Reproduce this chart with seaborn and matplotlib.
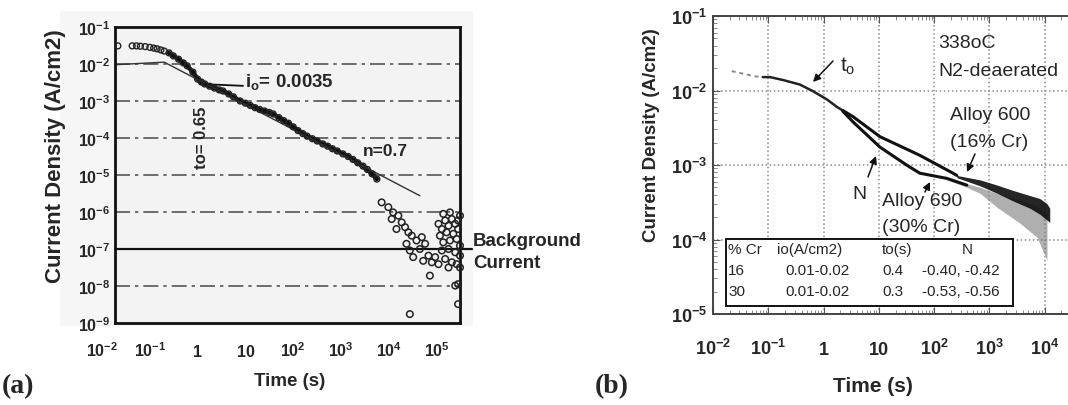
import numpy as np
import pandas as pd
import matplotlib
matplotlib.use("Agg")
import matplotlib.pyplot as plt
from matplotlib.patches import Rectangle
import seaborn as sns

W, H = 1068, 406

# ---------- panel (a): values (log10 of t and i) ----------
a_curve_logt = [-1.67, -1.37, -1.28, -1.2, -1.1, -1.0, -0.92, -0.85, -0.77, -0.7,
                -0.6, -0.51, -0.4, -0.3, -0.22, -0.1, 0.0, 0.08, 0.15, 0.25,
                0.35, 0.45, 0.53, 0.65, 0.75, 0.89, 1.0, 1.1, 1.2, 1.3,
                1.4, 1.5, 1.58, 1.7, 1.8, 1.9, 2.0, 2.1, 2.2, 2.29,
                2.4, 2.5, 2.62, 2.72, 2.82, 2.92, 3.04, 3.15, 3.25, 3.35,
                3.46, 3.55, 3.65, 3.75]
a_curve_logi = [-1.51, -1.51, -1.51, -1.52, -1.53, -1.55, -1.57, -1.59, -1.62, -1.65,
                -1.70, -1.78, -1.87, -1.97, -2.05, -2.22, -2.41, -2.49, -2.54, -2.60,
                -2.65, -2.70, -2.73, -2.81, -2.89, -3.0, -3.06, -3.12, -3.18, -3.23,
                -3.27, -3.31, -3.35, -3.45, -3.53, -3.60, -3.70, -3.80, -3.88, -3.95,
                -4.02, -4.08, -4.16, -4.22, -4.29, -4.35, -4.43, -4.50, -4.58, -4.67,
                -4.76, -4.85, -4.97, -5.11]
a_cloud_logt = [3.85, 3.99, 4.09, 4.06, 4.20, 4.27, 4.34, 4.16, 4.41, 4.48,
                4.58, 4.37, 4.44, 4.51, 4.69, 4.76, 4.65, 4.83, 4.72, 4.90,
                4.97, 4.86, 4.44, 5.04, 5.11, 5.18, 5.25, 5.32, 5.39, 5.45,
                5.07, 5.21, 5.35, 5.45, 5.14, 5.28, 5.42, 5.49, 5.11, 5.25,
                5.39, 5.49, 5.18, 5.32, 5.42, 5.04, 5.25, 5.49, 5.45, 5.39,
                5.45, 5.49, 5.28, 5.14]
a_cloud_logi = [-5.74, -5.87, -6.01, -6.19, -6.10, -6.28, -6.41, -6.46, -6.55, -6.64,
                -6.77, -6.86, -7.04, -7.22, -6.68, -6.86, -7.00, -7.18, -7.32, -7.36,
                -7.22, -7.72, -8.76, -6.32, -6.46, -6.23, -6.37, -6.19, -6.32, -6.23,
                -6.64, -6.55, -6.59, -6.46, -6.82, -6.77, -6.73, -6.91, -7.04, -7.00,
                -7.09, -7.18, -7.27, -7.36, -7.41, -7.41, -7.50, -7.50, -7.95, -7.99,
                -8.49, -6.10, -6.01, -6.05]
a_fit_logt = [-1.73, -0.70, 4.65]
a_fit_logi = [-2.02, -1.95, -5.56]
a_io_logt = [0.05, 0.95]
a_io_logi = [-2.54, -2.59]
a_background = 1e-7

a_xticks = [1e-1, 1, 10, 1e2, 1e3, 1e4, 1e5]
a_xticklabels = [r'$\mathdefault{10^{-1}}$', '1', '10', r'$\mathdefault{10^{2}}$',
                 r'$\mathdefault{10^{3}}$', r'$\mathdefault{10^{4}}$', r'$\mathdefault{10^{5}}$']
a_yticks = [1e-1, 1e-2, 1e-3, 1e-4, 1e-5, 1e-6, 1e-7, 1e-8, 1e-9]
a_yticklabels = [r'$\mathdefault{10^{-%d}}$' % k for k in range(1, 10)]

# ---------- panel (b) ----------
b_start_logt = [-1.66, -1.42, -1.24, -1.10]
b_start_logi = [-1.74, -1.78, -1.81, -1.82]
b_shared_logt = [-1.10, -0.97, -0.73, -0.43, -0.19, 0.06, 0.24, 0.35]
b_shared_logi = [-1.82, -1.82, -1.86, -1.92, -2.01, -2.12, -2.22, -2.27]
b600_logt = [0.35, 0.53, 1.02, 1.74, 2.34, 2.41]
b600_logi = [-2.27, -2.35, -2.62, -2.87, -3.11, -3.14]
b690_logt = [0.35, 0.53, 1.02, 1.5, 1.74, 2.23, 2.59]
b690_logi = [-2.28, -2.42, -2.76, -3.0, -3.11, -3.18, -3.27]
b600_tail_logt = [2.41, 2.83, 3.14, 3.42, 3.73, 3.91, 4.04, 4.09]
b600_tail_hi = [-3.14, -3.20, -3.27, -3.34, -3.41, -3.45, -3.52, -3.58]
b600_tail_lo = [-3.17, -3.28, -3.38, -3.48, -3.58, -3.66, -3.74, -3.77]
b690_tail_logt = [2.23, 2.59, 2.83, 3.14, 3.55, 3.86, 4.04]
b690_tail_hi = [-3.18, -3.25, -3.30, -3.38, -3.47, -3.55, -3.65]
b690_tail_lo = [-3.20, -3.30, -3.38, -3.57, -3.78, -3.97, -4.28]

b_xticks = [1e-2, 1e-1, 1, 10, 1e2, 1e3, 1e4]
b_xticklabels = [r'$\mathdefault{10^{-2}}$', r'$\mathdefault{10^{-1}}$', '1', '10',
                 r'$\mathdefault{10^{2}}$', r'$\mathdefault{10^{3}}$', r'$\mathdefault{10^{4}}$']
b_yticks = [1e-1, 1e-2, 1e-3, 1e-4, 1e-5]
b_yticklabels = [r'$\mathdefault{10^{-%d}}$' % k for k in range(1, 6)]

table_header = ['% Cr', 'io(A/cm2)', 'to(s)', 'N']
table_rows = [['16', '0.01-0.02', '0.4', '-0.40, -0.42'],
              ['30', '0.01-0.02', '0.3', '-0.53, -0.56']]

sns.set_style('white')
plt.rcParams['font.family'] = ['Liberation Sans', 'DejaVu Sans']
plt.rcParams['axes.unicode_minus'] = True


def pw(v):
    return np.power(10.0, np.asarray(v, dtype=float))


def fpx(px, py):
    # reference pixel (top-left origin) -> figure pixels
    return (px, H - py)


fig = plt.figure(figsize=(W / 100, H / 100), dpi=100)


def ftext(px, py, s, **kw):
    fig.text(px / W, 1 - py / H, s, **kw)


# faint grey block behind panel (a)
fig.add_artist(Rectangle((60 / W, 1 - 327 / H), 413 / W, 315 / H, transform=fig.transFigure,
                         facecolor='#f6f6f6', edgecolor='none', zorder=-1))

# ================= panel (a) =================
ax = fig.add_axes([115 / W, 1 - 324 / H, 345 / W, 296 / H])
ax.set_facecolor('#f3f3f3')
ax.set_xscale('log')
ax.set_yscale('log')

curve = pd.DataFrame({'t': pw(a_curve_logt), 'i': pw(a_curve_logi)})
sns.lineplot(data=curve[curve.t > 0.25], x='t', y='i', color='#111', lw=3.2,
             estimator=None, sort=False, ax=ax)
sns.scatterplot(data=curve, x='t', y='i', marker='o', s=18, facecolor='none',
                edgecolor='#222', linewidth=1.0, ax=ax, zorder=4)
cloud = pd.DataFrame({'t': pw(a_cloud_logt), 'i': pw(a_cloud_logi)})
sns.scatterplot(data=cloud, x='t', y='i', marker='o', s=22, facecolor='none',
                edgecolor='#222', linewidth=1.1, ax=ax, zorder=4, clip_on=False)
sns.lineplot(x=pw(a_fit_logt), y=pw(a_fit_logi), color='#333', lw=1.0,
             estimator=None, sort=False, ax=ax)
sns.lineplot(x=pw(a_io_logt), y=pw(a_io_logi), color='#111', lw=1.3,
             estimator=None, sort=False, ax=ax)

ax.set_xlim(10 ** -1.73, 10 ** 5.49)
ax.set_ylim(1e-9, 1e-1)
ax.plot([10 ** -1.73, 10 ** 5.74], [a_background, a_background], color='#111',
        lw=1.6, clip_on=False, zorder=3)
for lv in [1e-2, 1e-3, 1e-4, 1e-5, 1e-6, 1e-8]:
    ax.axhline(lv, color='#555', lw=1.2, ls=(0, (9, 3, 2, 3)), zorder=1)

ax.set_xticks(a_xticks)
ax.set_xticklabels(a_xticklabels)
ax.set_yticks(a_yticks)
ax.set_yticklabels(a_yticklabels)
ax.tick_params(which='both', length=0)
ax.tick_params(axis='x', pad=23.8, labelsize=11.5)
ax.tick_params(axis='y', pad=3.5, labelsize=11.5)
for lab in ax.get_xticklabels() + ax.get_yticklabels():
    lab.set_fontweight('bold')
for lab in ax.get_xticklabels():
    lab.set_verticalalignment('baseline')
ax.text(1e-2, -33 / 296, r'$\mathdefault{10^{-2}}$', transform=ax.get_xaxis_transform(),
        ha='center', va='baseline', fontsize=11.5, fontweight='bold', clip_on=False)
ax.set_xlabel('')
ax.set_ylabel('')
for sp in ax.spines.values():
    sp.set_color('#111')
    sp.set_linewidth(2.0)

# ================= panel (b) =================
bx = fig.add_axes([713 / W, 1 - 315 / H, 355 / W, 298 / H])
bx.set_xscale('log')
bx.set_yscale('log')
bx.fill_between(pw(b690_tail_logt), pw(b690_tail_lo), pw(b690_tail_hi),
                color='#7a7a7a', alpha=0.6, lw=0, zorder=2)
bx.fill_between(pw(b600_tail_logt), pw(b600_tail_lo), pw(b600_tail_hi),
                color='#0d0d0d', alpha=0.9, lw=0, zorder=3)
sns.lineplot(x=pw(b_start_logt), y=pw(b_start_logi), color='#888', lw=1.4,
             ls=(0, (2, 2)), estimator=None, sort=False, ax=bx)
sns.lineplot(x=pw(b_shared_logt), y=pw(b_shared_logi), color='#222', lw=1.8,
             estimator=None, sort=False, ax=bx)
sns.lineplot(x=pw(b600_logt), y=pw(b600_logi), color='#111', lw=2.2,
             estimator=None, sort=False, ax=bx)
sns.lineplot(x=pw(b690_logt), y=pw(b690_logi), color='#111', lw=2.2,
             estimator=None, sort=False, ax=bx)

bx.set_xlim(1e-2, 10 ** 4.42)
bx.set_ylim(1e-5, 1e-1)
bx.set_xticks(b_xticks)
bx.set_xticklabels(b_xticklabels)
bx.set_yticks(b_yticks)
bx.set_yticklabels(b_yticklabels)
bx.grid(True, which='major', color='#8c8c8c', ls=':', lw=1.1)
bx.tick_params(which='both', direction='in', top=True, bottom=True, left=True, right=False)
bx.tick_params(which='major', length=5, color='#555')
bx.tick_params(which='minor', length=3, color='#777')
bx.tick_params(axis='x', pad=28.8, labelsize=13)
bx.tick_params(axis='y', pad=4, labelsize=13)
for lab in bx.get_xticklabels() + bx.get_yticklabels():
    lab.set_fontweight('bold')
for lab in bx.get_xticklabels():
    lab.set_verticalalignment('baseline')
bx.set_xlabel('')
bx.set_ylabel('')
bx.spines['right'].set_visible(False)
for side in ['left', 'top', 'bottom']:
    bx.spines[side].set_color('#444')
    bx.spines[side].set_linewidth(1.4)


def arrow(tail, head):
    bx.annotate('', xy=fpx(*head), xytext=fpx(*tail),
                xycoords='figure pixels', textcoords='figure pixels',
                annotation_clip=False, clip_on=False,
                arrowprops=dict(arrowstyle='-|>', color='#111', lw=1.1,
                                mutation_scale=11, shrinkA=0, shrinkB=0,
                                clip_on=False))


# ================= labels and annotations =================
ftext(56, 156, 'Current Density (A/cm2)', rotation=90, ha='center', va='center',
      fontsize=16, fontweight='bold')
ftext(290, 382, 'Time (s)', ha='center', va='center', fontsize=13.5, fontweight='bold')
ftext(2, 387, '(a)', ha='left', va='center', fontsize=20, fontweight='bold',
      family=['Liberation Serif', 'DejaVu Serif'])
ftext(245, 82, r'$\mathdefault{i_o}$= 0.0035', ha='left', va='center', fontsize=13.5,
      fontweight='bold')
ftext(202, 138, 'to= 0.65', rotation=90, ha='center', va='center', fontsize=12,
      fontweight='bold')
ftext(363, 152, 'n=0.7', ha='left', va='center', fontsize=12.5, fontweight='bold')
ftext(473, 242, 'Background', ha='left', va='center', fontsize=13.5, fontweight='bold')
ftext(473, 263, 'Current', ha='left', va='center', fontsize=13.5, fontweight='bold')

ftext(651, 135, 'Current Density (A/cm2)', rotation=90, ha='center', va='center',
      fontsize=13.5, fontweight='bold')
ftext(873, 387, 'Time (s)', ha='center', va='center', fontsize=15, fontweight='bold')
ftext(595, 387, '(b)', ha='left', va='center', fontsize=20, fontweight='bold',
      family=['Liberation Serif', 'DejaVu Serif'])

ftext(840, 66, r'$\mathdefault{t_o}$', ha='left', va='center', fontsize=15)
ftext(938, 43, '338oC', ha='left', va='center', fontsize=14)
ftext(938, 72, 'N2-deaerated', ha='left', va='center', fontsize=14)
ftext(950, 115, 'Alloy 600', ha='left', va='center', fontsize=14)
ftext(950, 143, '(16% Cr)', ha='left', va='center', fontsize=14)
ftext(859, 195, 'N', ha='center', va='center', fontsize=14)
ftext(882, 202, 'Alloy 690', ha='left', va='center', fontsize=14)
ftext(882, 228, '(30% Cr)', ha='left', va='center', fontsize=14)

arrow((833, 62), (813, 83))
arrow((975, 155), (967, 173))
arrow((868, 178), (876, 157))
arrow((925, 193), (930, 183))

# parameter table
fig.add_artist(Rectangle((726 / W, 1 - 307 / H), 287 / W, 67 / H, transform=fig.transFigure,
                         facecolor='white', edgecolor='#111', lw=1.4, zorder=5))
col_x = [728, 777, 882, 967]
for txt, x in zip(table_header, col_x):
    ftext(x, 250, txt, ha='center' if txt == 'N' else 'left', va='center',
          fontsize=11, zorder=6)
row_x = [728, 785, 882, 922]
for r, y in zip(table_rows, [271, 292]):
    for txt, x in zip(r, row_x):
        ftext(x, y, txt, ha='left', va='center', fontsize=11, zorder=6)

fig.savefig('out.png', dpi=100)
